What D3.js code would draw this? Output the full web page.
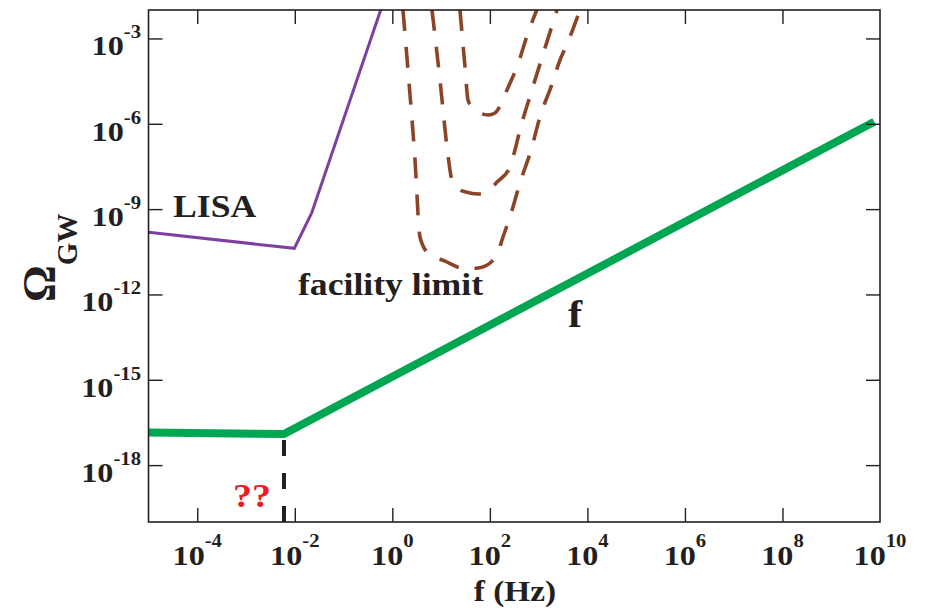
<!DOCTYPE html>
<html>
<head>
<meta charset="utf-8">
<script src="https://cdn.jsdelivr.net/npm/d3@7"></script>
<style>
  body { margin: 0; background: #fff; }
  text { font-family: "Liberation Serif", "Times New Roman", serif; font-weight: bold; fill: #231f20; }
</style>
</head>
<body>
<div id="chart"></div>
<script>
var w = 927;
var h = 612;
var stretch = 1.15; // the reference type is set a little wide

// axis ranges and ticks
var xDomain = [1e-5, 1e10];
var yDomain = [1e-20, 1e-2];
var xTickExp = [-4, -2, 0, 2, 4, 6, 8, 10];
var yTickExp = [-18, -15, -12, -9, -6, -3];

// green curve (f)
var greenF = [1e-5, 6.0e-3, 7.62e9];
var greenOmega = [1.39e-17, 1.23e-17, 1.18e-6];

// LISA sensitivity
var lisaF = [1e-5, 9.77e-3, 2.22e-2, 0.577, 0.794];
var lisaOmega = [1.53e-10, 4.18e-11, 7.28e-10, 1e-2, 5.0e-2];

// facility limit curves (dashed)
var limAF = [1.652, 2.094, 2.917, 3.690, 5.383, 12.02, 32.36, 68.87, 146.6, 177.0, 258.2, 414.0, 719.5, 1064, 1849, 2735, 3758, 7047];
var limAOmega = [1e-2, 7.76e-5, 5.37e-8, 1.05e-10, 2.88e-11, 1.48e-11, 7.76e-12, 9.12e-12, 2.88e-11, 8.13e-11, 5.25e-10, 8.32e-9, 1.41e-7, 1.74e-6, 2.29e-5, 1.74e-4, 5.89e-4, 1e-2];
var limBF = [6.50, 9.48, 13.21, 16.71, 22.18, 32.36, 57.02, 91.41, 140.0, 258.2, 327.3, 414.0, 696.6, 1349, 2377];
var limBOmega = [1e-2, 3.47e-5, 1.51e-7, 1.05e-8, 5.13e-9, 3.98e-9, 3.39e-9, 4.37e-9, 8.91e-9, 3.02e-8, 1.20e-7, 6.03e-7, 1.20e-5, 4.57e-4, 1e-2];
var limCF = [24.38, 26.79, 30.90, 35.56, 42.95, 62.66, 91.41, 127.4, 169.0, 224.4, 359.7, 603.9, 912.0];
var limCOmega = [1e-2, 1.55e-3, 1e-4, 6.92e-6, 3.89e-6, 2.40e-6, 2.04e-6, 2.40e-6, 4.90e-6, 1.55e-5, 1e-4, 1.55e-3, 1e-2];

// unknown cutoff marker
var cutF = [6.0e-3, 6.0e-3];
var cutOmega = [1e-20, 1.23e-17];

var svg = d3.select("#chart")
	.append("svg")
	.attr("width", w)
	.attr("height", h);

var x = d3.scaleLog().domain(xDomain).range([148.5, 880]);
var y = d3.scaleLog().domain(yDomain).range([522, 10]);

function zip(a, b) {
	return a.map(function(d, i) { return [d, b[i]]; });
}

function at(px, py) {
	return "translate(" + px + "," + py + ") scale(" + stretch + ",1)";
}

svg.append("clipPath").attr("id", "plot")
	.append("rect")
	.attr("x", 148.5).attr("y", 10)
	.attr("width", 880 - 148.5).attr("height", 512);

var line = d3.line()
	.x(function(d) { return x(d[0]); })
	.y(function(d) { return y(d[1]); });

var smooth = d3.line()
	.x(function(d) { return x(d[0]); })
	.y(function(d) { return y(d[1]); })
	.curve(d3.curveMonotoneX);

var plot = svg.append("g").attr("clip-path", "url(#plot)");

// facility limit curves
[[limAF, limAOmega], [limBF, limBOmega], [limCF, limCOmega]].forEach(function(c) {
	plot.append("path")
		.attr("d", smooth(zip(c[0], c[1])))
		.attr("fill", "none")
		.attr("stroke", "#8c4426")
		.attr("stroke-width", 3.6)
		.attr("stroke-dasharray", "21,16");
});

// LISA
plot.append("path")
	.attr("d", line(zip(lisaF, lisaOmega)))
	.attr("fill", "none")
	.attr("stroke", "#7d40a0")
	.attr("stroke-width", 3);

// cutoff dashed line (drawn bottom up)
plot.append("path")
	.attr("d", line(zip(cutF, cutOmega)))
	.attr("fill", "none")
	.attr("stroke", "#231f20")
	.attr("stroke-width", 4)
	.attr("stroke-dasharray", "16,17");

// green line
plot.append("path")
	.attr("d", line(zip(greenF, greenOmega)))
	.attr("fill", "none")
	.attr("stroke", "#00a651")
	.attr("stroke-width", 8);

// frame
svg.append("rect")
	.attr("x", 148.5).attr("y", 10)
	.attr("width", 880 - 148.5).attr("height", 512)
	.attr("fill", "none")
	.attr("stroke", "#231f20")
	.attr("stroke-width", 1.6);

// ticks, all four sides, pointing in
var xTicks = xTickExp.filter(function(e) { return e < 10; }).map(function(e) { return Math.pow(10, e); });
var yTicks = yTickExp.map(function(e) { return Math.pow(10, e); });

function tickAxis(axis, tx, ty, vals) {
	var g = svg.append("g")
		.attr("transform", "translate(" + tx + "," + ty + ")")
		.call(axis.tickValues(vals).tickSize(-14).tickFormat(""));
	g.select(".domain").remove();
	g.selectAll("line").attr("stroke", "#231f20").attr("stroke-width", 1.4);
}
tickAxis(d3.axisBottom(x), 0, 522, xTicks);
tickAxis(d3.axisTop(x), 0, 10, xTicks);
tickAxis(d3.axisLeft(y), 148.5, 0, yTicks);
tickAxis(d3.axisRight(y), 880, 0, yTicks);

// tick labels
var xl = svg.selectAll(".xl")
	.data(xTickExp)
	.enter()
	.append("text")
	.attr("class", "xl")
	.attr("transform", function(d) { return at(x(Math.pow(10, d)), 565); })
	.attr("text-anchor", "middle")
	.attr("font-size", 28);
xl.append("tspan").text("10");
xl.append("tspan").attr("dy", -18).attr("font-size", 18).text(function(d) { return d; });

var yl = svg.selectAll(".yl")
	.data(yTickExp)
	.enter()
	.append("text")
	.attr("class", "yl")
	.attr("transform", function(d) { return at(141, y(Math.pow(10, d)) + 17); })
	.attr("text-anchor", "end")
	.attr("font-size", 28);
yl.append("tspan").text("10");
yl.append("tspan").attr("dy", -17).attr("font-size", 18).text(function(d) { return d; });

// axis titles
svg.append("text")
	.attr("transform", at(515, 601))
	.attr("text-anchor", "middle")
	.attr("font-size", 29)
	.text("f (Hz)");

var yt = svg.append("text")
	.attr("transform", "translate(55,302) rotate(-90)");
yt.append("tspan").attr("font-size", 46).text("Ω");
yt.append("tspan").attr("font-size", 29).attr("dy", 22).text("GW");

// annotations
svg.append("text").attr("transform", at(173, 217)).attr("font-size", 31).text("LISA");
svg.append("text").attr("transform", at(298, 295)).attr("font-size", 31).text("facility limit");
svg.append("text").attr("transform", at(568, 327)).attr("font-size", 37).text("f");
svg.append("text").attr("transform", at(233, 507)).attr("font-size", 33)
	.style("fill", "#ed1c24").text("??");
</script>
</body>
</html>
